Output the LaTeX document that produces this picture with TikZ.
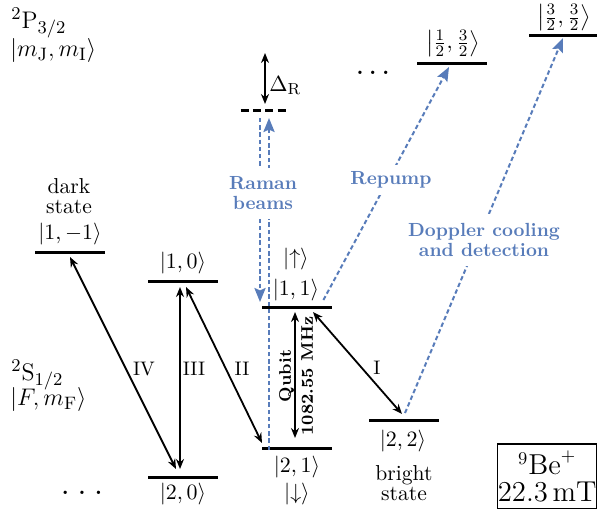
\documentclass[tikz,border=0pt]{standalone}
\usepackage{amsmath}
\usetikzlibrary{arrows.meta,calc}
\definecolor{beamblue}{RGB}{88,124,186}
\begin{document}
\begin{tikzpicture}[x=0.5pt,y=-0.5pt,
  lvl/.style={fill=black,inner sep=0pt,minimum width=35pt,minimum height=1.5pt},
  ket/.style={font=\fontsize{11.2}{12}\selectfont,inner sep=0pt},
  big/.style={font=\fontsize{12.4}{13}\selectfont,inner sep=0pt},
  txt/.style={font=\fontsize{10.8}{10}\selectfont,align=center,inner sep=0pt},
  roman/.style={font=\fontsize{9.8}{10}\selectfont,inner sep=0pt},
  blab/.style={font=\fontsize{9.5}{10}\selectfont\bfseries,text=beamblue,align=center,fill=white,inner xsep=1pt},
  trans/.style={line width=0.9pt,{Stealth[length=5pt,width=4pt]}-{Stealth[length=5pt,width=4pt]}},
  beam/.style={draw=beamblue,line width=1pt,dash pattern=on 2.2pt off 1.4pt,-{Stealth[length=7pt,width=5.6pt,inset=1.2pt]}},
  dotsty/.style={font=\fontsize{17}{17}\selectfont,inner sep=0pt},
]
\useasboundingbox (0,0) rectangle (597,509);

% levels
\node[lvl] (s1m1) at (70,252) {};
\node[lvl] (s10) at (183,281) {};
\node[lvl] (s11) at (297,307) {};
\node[lvl] (s21) at (297,448) {};
\node[lvl] (s20) at (183,477) {};
\node[lvl] (s22) at (404,420) {};
\node[lvl] (p12) at (452,63) {};
\node[lvl,minimum width=34pt] (p32) at (563,35) {};
\node[inner sep=0pt,minimum width=22.5pt,minimum height=1.5pt] (v) at (263.5,110) {};
\draw[line width=1.5pt,dash pattern=on 4pt off 2.17pt] (v.west) -- (v.east);

% kets
\node[ket,anchor=base] (k1m1) at (70,239) {$|1,-1\rangle$};
\node[ket,anchor=base] (k10) at (183,268) {$|1,0\rangle$};
\node[ket,anchor=base] (k11) at (296,295) {$|1,1\rangle$};
\node[ket,anchor=base] (kup) at (296,264) {$|{\uparrow}\rangle$};
\node[ket,anchor=base] (k21) at (297,472) {$|2,1\rangle$};
\node[ket,anchor=base] (kdn) at (297,499) {$|{\downarrow}\rangle$};
\node[ket,anchor=base] (k20) at (183,499) {$|2,0\rangle$};
\node[ket,anchor=base] (k22) at (403,446) {$|2,2\rangle$};
\node[ket,anchor=south] (kp12) at (453,57) {$\bigl|\tfrac{1}{2},\tfrac{3}{2}\bigr\rangle$};
\node[ket,anchor=south] (kp32) at (564,31.5) {$\bigl|\tfrac{3}{2},\tfrac{3}{2}\bigr\rangle$};

% manifold labels
\node[big,anchor=base west] (plab) at (11,28) {${}^2\mathrm{P}_{3/2}$};
\node[big,anchor=base west] (mjlab) at (10,56) {$|m_{\mathrm{J}},m_{\mathrm{I}}\rangle$};
\node[big,anchor=base west] (slab) at (11,380) {${}^2\mathrm{S}_{1/2}$};
\node[big,anchor=base west] (fmlab) at (10,405) {$|F,m_{\mathrm{F}}\rangle$};

\node[txt,anchor=north] (dark) at (69,178) {dark\\state};
\node[txt,anchor=north] (bright) at (404,465) {bright\\state};

\node[roman] (rIV) at (144,369) {IV};
\node[roman] (rIII) at (194,369) {III};
\node[roman] (rII) at (242,369) {II};
\node[roman] (rI) at (377,368) {I};

\node[ket,anchor=base west] (dR) at (269,91) {$\Delta_{\mathrm{R}}$};

\node[dotsty] (dotsP) at (373,73) {$.\mkern1.8mu.\mkern1.8mu.$};
\node[dotsty] (dotsS) at (82,493) {$.\mkern3.8mu.\mkern3.8mu.$};

\node[draw,line width=0.6pt,font=\fontsize{13.5}{13.5}\selectfont,align=center,inner sep=0pt,
      minimum width=49.2pt,minimum height=32.2pt] (ion) at (547.2,476.2) {${}^{9}\mathrm{Be}^{+}$\\$22.3\,\mathrm{mT}$};

% transitions
\draw[trans] ($(s1m1)+(0,5)$) -- ($(s20)+(-7,-8)$);
\draw[trans] ($(s10)+(-3,6)$) -- ($(s20)+(-3,-8)$);
\draw[trans] ($(s10)+(3,6)$) -- ($(s21)+(-35,-5)$);
\draw[trans] ($(s11)+(-2,5)$) -- ($(s21)+(-2,-10)$);
\draw[trans] ($(s11)+(16,5)$) -- ($(s22)+(-2,-6)$);
\draw[trans] ($(v)+(1.5,-57)$) -- ($(v)+(1.5,-6)$);

% laser beams
\draw[beam] ($(v)+(-3.5,8)$) -- ($(s11)+(-37,-5)$);
\draw[beam] ($(s21)+(-28,2)$) -- ($(v)+(5.5,8)$);
\draw[beam] ($(s11.east)+(-9,-7)$) -- ($(p12)+(-3,4)$);
\draw[beam] ($(s22)+(1,-7)$) -- ($(p32)+(0,3)$);

\node[blab,inner ysep=4.5pt] (raman) at (263,193.5) {Raman\\beams};
\node[blab,inner ysep=3.5pt] (repump) at (391,180) {Repump};
\node[blab,inner ysep=4.5pt] (doppler) at (484,240) {Doppler cooling\\and detection};

\node[font=\fontsize{8.4}{11}\selectfont\bfseries,align=center,rotate=90,inner sep=0pt] (qubit) at (296,376) {Qubit\\1082.55 MHz};
\end{tikzpicture}
\end{document}
